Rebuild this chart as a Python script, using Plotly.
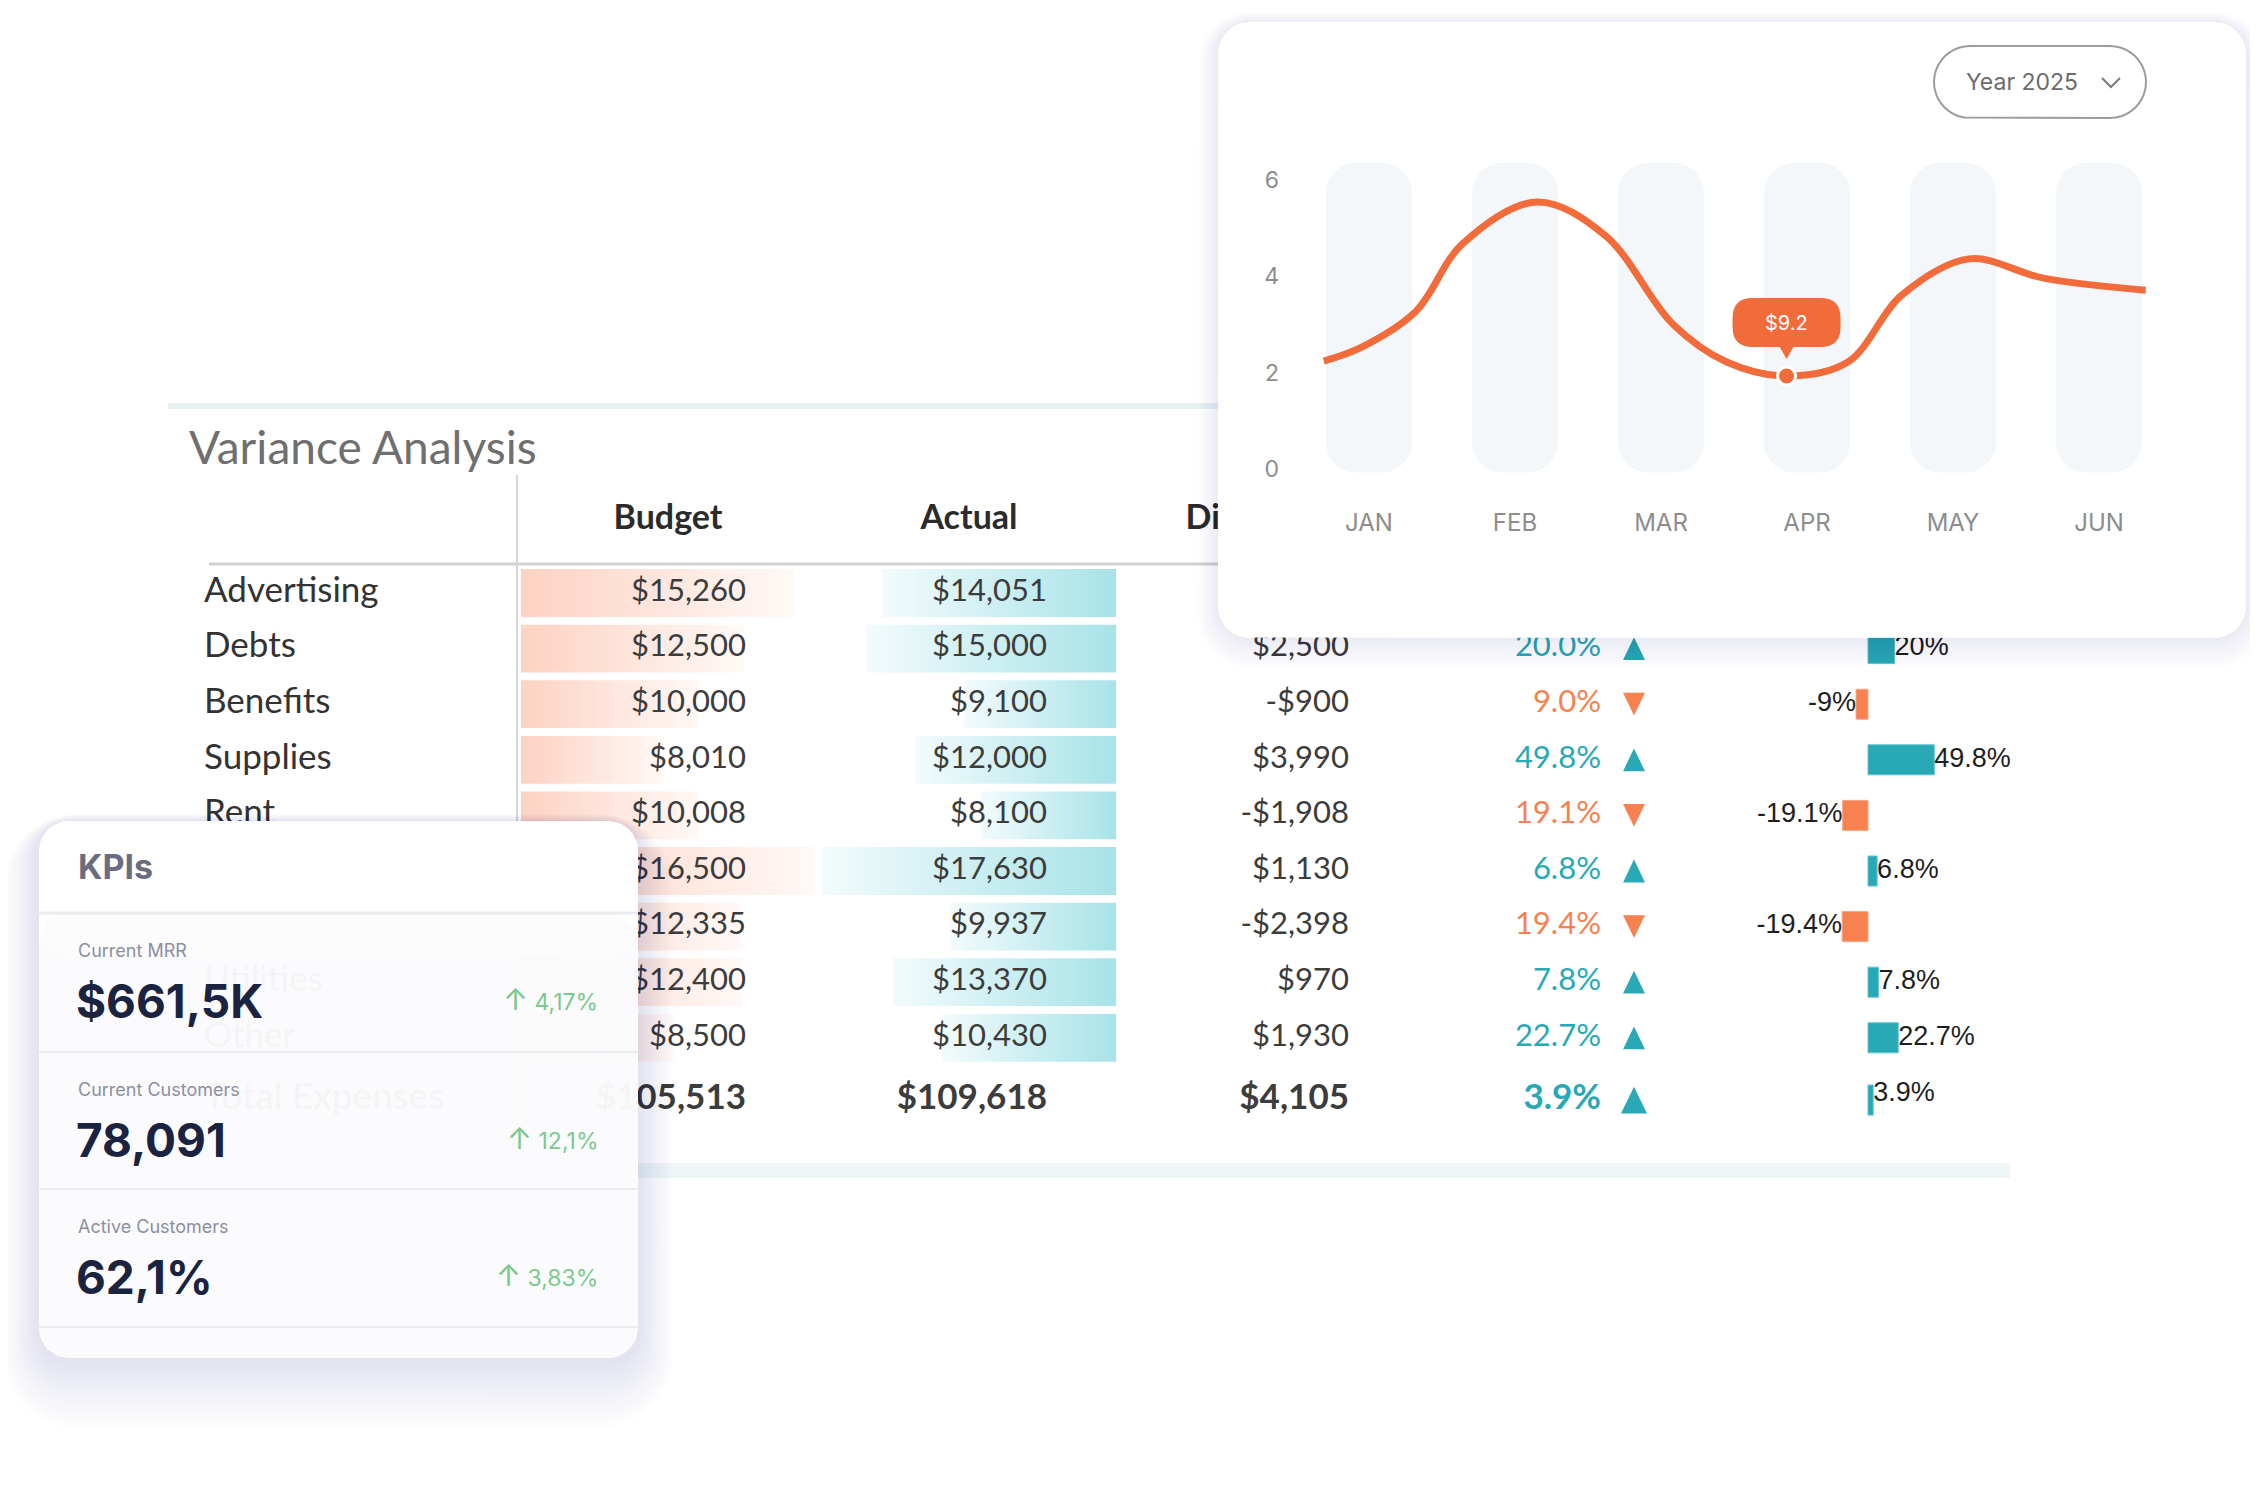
import math
import plotly.graph_objects as go

W, H = 2258, 1494
PAD = 8                      # default <body> margin around the figure div
FW, FH = W - 2 * PAD, H - 2 * PAD

# ---------------- variance table
rows = ["Advertising", "Debts", "Benefits", "Supplies", "Rent",
        "Salaries", "Travel", "Utilities", "Other"]
total_label = "Total Expenses"
budget = [15260, 12500, 10000, 8010, 10008, 16500, 12335, 12400, 8500]
actual = [14051, 15000, 9100, 12000, 8100, 17630, 9937, 13370, 10430]
headers = ["Budget", "Actual", "Difference"]

# ---------------- monthly line chart
months = ["JAN", "FEB", "MAR", "APR", "MAY", "JUN"]
line_x = [-0.31, -0.05, 0.32, 0.64, 1.15, 1.62, 2.08, 2.45, 2.86, 3.28, 3.65, 4.11, 4.62, 5.32]
line_y = [2.24, 2.53, 3.27, 4.67, 5.54, 4.84, 3.01, 2.22, 1.93, 2.22, 3.61, 4.36, 3.96, 3.71]
y_ticks = [0, 2, 4, 6]
tooltip_text = "$9.2"
year_label = "Year 2025"

# ---------------- KPI card
kpi_names = ["Current MRR", "Current Customers", "Active Customers"]
kpi_values = ["$661,5K", "78,091", "62,1%"]
kpi_deltas = ["4,17%", "12,1%", "3,83%"]

TEAL = "#29a9b5"
ORANGE = "#f7814f"
LINE_ORANGE = "#f26b3a"
TXT = "#3c3c3c"


def fx(px):
    return (px - PAD) / FW


def fy(py):
    return 1 - (py - PAD) / FH


def rounded_rect(x0, y0, x1, y1, r, n=10):
    xs, ys = [], []
    for cx, cy, a0 in [(x1 - r, y0 + r, -90), (x1 - r, y1 - r, 0),
                       (x0 + r, y1 - r, 90), (x0 + r, y0 + r, 180)]:
        for k in range(n + 1):
            a = math.radians(a0 + 90 * k / n)
            xs.append(cx + r * math.cos(a))
            ys.append(cy + r * math.sin(a))
    return xs + xs[:1], ys + ys[:1]


def rpath(x0, y0, x1, y1, r):
    return (f"M{x0 + r},{y0} L{x1 - r},{y0} Q{x1},{y0} {x1},{y0 + r} L{x1},{y1 - r} "
            f"Q{x1},{y1} {x1 - r},{y1} L{x0 + r},{y1} Q{x0},{y1} {x0},{y1 - r} "
            f"L{x0},{y0 + r} Q{x0},{y0} {x0 + r},{y0} Z")


def money(v):
    return f"-${abs(v):,}" if v < 0 else f"${v:,}"


def short_pct(p):
    s = f"{p:.1f}".rstrip("0").rstrip(".")
    return s + "%"


diff = [a - b for a, b in zip(actual, budget)]
pct = [d / b * 100 for d, b in zip(diff, budget)]
tot_b, tot_a = sum(budget), sum(actual)
tot_d = tot_a - tot_b
tot_p = tot_d / tot_b * 100

TOTAL_GAP = 0.12
row_y = list(range(len(rows)))
all_y = row_y + [len(rows) + TOTAL_GAP]
all_p = pct + [tot_p]
HEADER_Y = -1.3
ROW0_PX, ROW_PX = 593, 55.6        # pixel centre of the first row, row pitch
Y_TOP, Y_BOT = -1.75, 9.65

fig = go.Figure()

# budget bars (gradient fades to white at the end of each bar)
for i, v in enumerate(budget):
    fig.add_trace(go.Scatter(
        x=[0, v, v, 0, 0], y=[i - 0.43, i - 0.43, i + 0.43, i + 0.43, i - 0.43],
        fill="toself", mode="lines", line=dict(width=0),
        fillgradient=dict(type="horizontal", colorscale=[[0, "#fdd2c2"], [1, "#fff9f7"]]),
        hoverinfo="skip", xaxis="x", yaxis="y"))

# actual bars grow right-to-left, teal at the right end
for i, v in enumerate(actual):
    fig.add_trace(go.Scatter(
        x=[0, v, v, 0, 0], y=[i - 0.43, i - 0.43, i + 0.43, i + 0.43, i - 0.43],
        fill="toself", mode="lines", line=dict(width=0),
        fillgradient=dict(type="horizontal", colorscale=[[0, "#f3fbfc"], [1, "#a7e3e8"]]),
        hoverinfo="skip", xaxis="x2", yaxis="y"))

# variance % bars
fig.add_trace(go.Bar(
    x=all_p, y=all_y, orientation="h", width=0.54,
    marker=dict(color=[TEAL if p >= 0 else ORANGE for p in all_p],
                line=dict(color=["#5cc3cc" if p >= 0 else "#fba583" for p in all_p], width=1)),
    xaxis="x3", yaxis="y", hoverinfo="skip"))
fig.add_trace(go.Scatter(
    x=all_p, y=[y - (0.1 if i == len(rows) else 0) for i, y in enumerate(all_y)],
    mode="text", text=[short_pct(p) for p in all_p],
    textposition=["middle right" if p >= 0 else "middle left" for p in all_p],
    textfont=dict(family="Arial, Liberation Sans", size=27, color="#1e1e1e"),
    cliponaxis=False, xaxis="x3", yaxis="y", hoverinfo="skip"))

# table text (x4 is a pixel axis across the page)
LABEL_X, BUDGET_R, ACTUAL_R, DIFF_R, PCT_R, TRI_X = 204, 746, 1047, 1349, 1601, 1634
HEAD_X = [668, 969, 1265]
norm = [31] * len(rows) + [35]
fig.add_trace(go.Scatter(
    x=[LABEL_X] * len(all_y), y=all_y, mode="text",
    text=rows + [total_label], textposition="middle right",
    textfont=dict(family="Lato", size=[35] * len(rows) + [37], color="#333333"),
    cliponaxis=False, xaxis="x4", yaxis="y", hoverinfo="skip"))
for col_x, vals in [(BUDGET_R, budget + [tot_b]), (ACTUAL_R, actual + [tot_a]), (DIFF_R, diff + [tot_d])]:
    fig.add_trace(go.Scatter(
        x=[col_x] * len(all_y), y=all_y, mode="text",
        text=[money(v) for v in vals[:-1]] + [f"<b>{money(vals[-1])}</b>"],
        textposition="middle left",
        textfont=dict(family="Lato", size=norm, color=TXT),
        cliponaxis=False, xaxis="x4", yaxis="y", hoverinfo="skip"))
fig.add_trace(go.Scatter(
    x=[PCT_R] * len(all_y), y=all_y, mode="text",
    text=[f"{abs(p):.1f}%" for p in pct] + [f"<b>{abs(tot_p):.1f}%</b>"],
    textposition="middle left",
    textfont=dict(family="Lato", size=norm, color=[TEAL if p >= 0 else ORANGE for p in all_p]),
    cliponaxis=False, xaxis="x4", yaxis="y", hoverinfo="skip"))

# up / down arrows as small isosceles triangles (half width in px, half height in rows)
for color, up in [(TEAL, True), (ORANGE, False)]:
    tx, ty = [], []
    for i, (p, y) in enumerate(zip(all_p, all_y)):
        if (p >= 0) != up:
            continue
        hw = 13 if i == len(rows) else 11
        hh = 0.24 if i == len(rows) else 0.205
        tip, foot = (y - hh, y + hh) if up else (y + hh, y - hh)
        tx += [TRI_X - hw, TRI_X + hw, TRI_X, TRI_X - hw, None]
        ty += [foot, foot, tip, foot, None]
    fig.add_trace(go.Scatter(x=tx, y=ty, mode="lines", fill="toself", fillcolor=color,
                             line=dict(width=0, color=color), xaxis="x4", yaxis="y",
                             hoverinfo="skip"))

fig.add_trace(go.Scatter(
    x=HEAD_X, y=[HEADER_Y] * len(headers), mode="text",
    text=[f"<b>{h}</b>" for h in headers], textposition="middle center",
    textfont=dict(family="Lato", size=34, color="#2b2b2b"),
    cliponaxis=False, xaxis="x4", yaxis="y", hoverinfo="skip"))

# ---------------- cards on the page-pixel axis (x5/y5)
def add_poly(xs, ys, fill, line_color=None, line_width=0):
    fig.add_trace(go.Scatter(
        x=xs, y=ys, fill="toself", fillcolor=fill, mode="lines",
        line=dict(width=line_width, color=line_color or fill),
        hoverinfo="skip", xaxis="x5", yaxis="y5"))


CHART_CARD = (1218, 22, 2246, 638)
KPI_CARD = (39, 821, 638, 1358)

for k in range(1, 11):
    x0, y0, x1, y1 = CHART_CARD
    add_poly(*rounded_rect(x0 - 2 * k, y0 - k, x1 + 2 * k, y1 + 3 * k, 32 + 2 * k),
             "rgba(40,50,70,0.006)")
add_poly(*rounded_rect(*CHART_CARD, 32), "#ffffff")

# year selector
add_poly(*rounded_rect(1934, 46, 2146, 118, 36), "#ffffff", "#9c9c9c", 2)
fig.add_trace(go.Scatter(x=[2102, 2111, 2120], y=[78, 87, 78], mode="lines",
                         line=dict(color="#7a7a7a", width=2), hoverinfo="skip",
                         xaxis="x5", yaxis="y5"))

for k in range(1, 15):
    x0, y0, x1, y1 = KPI_CARD
    add_poly(*rounded_rect(x0 - 2.5 * k, y0 - 0.5 * k, x1 + 2.5 * k, y1 + 5 * k, 30 + 3 * k),
             "rgba(40,50,70,0.008)")
# frosted card: opaque header, slightly see-through body
add_poly(*rounded_rect(*KPI_CARD, 30), "rgba(255,255,255,0.93)")
add_poly(*rounded_rect(KPI_CARD[0], KPI_CARD[1], KPI_CARD[2], 955, 30), "rgba(255,255,255,0.97)")
add_poly(*rounded_rect(KPI_CARD[0], 914, KPI_CARD[2], KPI_CARD[3], 30), "rgba(250,250,252,0.5)")

KPI_SEP = [913, 1052, 1189, 1327]
for j, sy in enumerate(KPI_SEP):
    fig.add_trace(go.Scatter(x=[KPI_CARD[0], KPI_CARD[2]], y=[sy, sy], mode="lines",
                             line=dict(color="#ebebf0", width=3 if j == 0 else 2),
                             hoverinfo="skip", xaxis="x5", yaxis="y5"))

# ---------------- monthly chart (x6/y6)
TRACK_TOP, TRACK_BOTTOM = 6.35, -0.07
track_x = list(range(len(months)))
fig.add_trace(go.Bar(x=track_x, y=[TRACK_TOP - TRACK_BOTTOM] * len(months),
                     base=[TRACK_BOTTOM] * len(months), width=0.59,
                     marker=dict(color="#f3f7fa", cornerradius=30, line=dict(width=0)),
                     xaxis="x6", yaxis="y6", hoverinfo="skip"))
fig.add_trace(go.Scatter(x=line_x, y=line_y, mode="lines",
                         line=dict(color=LINE_ORANGE, width=7, shape="spline", smoothing=1.0),
                         xaxis="x6", yaxis="y6", hoverinfo="skip"))
hi = line_y.index(min(line_y))
fig.add_trace(go.Scatter(x=[line_x[hi]], y=[line_y[hi]], mode="markers",
                         marker=dict(size=18, color=LINE_ORANGE, line=dict(color="white", width=3)),
                         xaxis="x6", yaxis="y6", hoverinfo="skip"))

shapes = [
    # table rules
    dict(type="line", xref="x5", yref="y5", x0=168, x1=1218, y0=406, y1=406,
         line=dict(color="#e4f2f2", width=6), layer="below"),
    dict(type="rect", xref="x5", yref="y5", x0=168, x1=2010, y0=1163, y1=1178,
         fillcolor="#eef6f7", line=dict(width=0), layer="below"),
    dict(type="line", xref="x5", yref="y5", x0=209, x1=1218, y0=564, y1=564,
         line=dict(color="#d0d0d0", width=3), layer="below"),
    dict(type="line", xref="x5", yref="y5", x0=517, x1=517, y0=475, y1=1125,
         line=dict(color="#d6d6d6", width=2), layer="below"),
    # tooltip bubble, pixel offsets from the highlighted point
    dict(type="path", xref="x6", yref="y6", xsizemode="pixel", ysizemode="pixel",
         xanchor=line_x[hi], yanchor=line_y[hi], path=rpath(-54, 29, 54, 78, 20),
         fillcolor=LINE_ORANGE, line=dict(width=0), layer="above"),
    dict(type="path", xref="x6", yref="y6", xsizemode="pixel", ysizemode="pixel",
         xanchor=line_x[hi], yanchor=line_y[hi], path="M-8,31 L0,17 L8,31 Z",
         fillcolor=LINE_ORANGE, line=dict(width=0), layer="above"),
]

ann = [
    dict(x=187, y=446, xref="x5", yref="y5", text="Variance Analysis", showarrow=False,
         xanchor="left", yanchor="middle", font=dict(family="Lato", size=46, color="#6f6f6f")),
    dict(x=2022, y=82, xref="x5", yref="y5", text=year_label, showarrow=False,
         xanchor="center", yanchor="middle", font=dict(family="Inter", size=23, color="#6b6b6b")),
    dict(x=line_x[hi], y=line_y[hi], xref="x6", yref="y6", text=tooltip_text, showarrow=False,
         yshift=53, font=dict(family="Inter", size=20, color="white")),
    dict(x=76, y=866, xref="x5", yref="y5", text="<b>KPIs</b>", showarrow=False,
         xanchor="left", yanchor="middle", font=dict(family="Inter", size=34, color="#6a6d80")),
]
for j, (name, val, dlt) in enumerate(zip(kpi_names, kpi_values, kpi_deltas)):
    top = KPI_SEP[j]
    ann += [
        dict(x=76, y=top + 37, xref="x5", yref="y5", text=name, showarrow=False,
             xanchor="left", yanchor="middle", font=dict(family="Inter", size=18, color="#8b8fa3")),
        dict(x=74, y=top + 88, xref="x5", yref="y5", text=f"<b>{val}</b>", showarrow=False,
             xanchor="left", yanchor="middle", font=dict(family="Inter", size=46, color="#1a2340")),
        dict(x=600, y=top + 86, xref="x5", yref="y5",
             text=f"<span style='font-size:30px'>↑</span> {dlt}", showarrow=False,
             xanchor="right", yanchor="middle", font=dict(family="Inter", size=23, color="#7cc98c")),
    ]

hidden = dict(visible=False)
fig.update_layout(
    width=FW, height=FH, margin=dict(l=0, r=0, t=0, b=0),
    paper_bgcolor="white", plot_bgcolor="rgba(0,0,0,0)",
    showlegend=False, hovermode=False, barmode="overlay",
    xaxis=dict(domain=[fx(521), fx(815)], range=[0, max(budget)], anchor="y", **hidden),
    xaxis2=dict(domain=[fx(822), fx(1116)], range=[max(actual), 0], anchor="y", **hidden),
    xaxis3=dict(domain=[fx(1801.5), fx(1947.8)], range=[-50, 60], anchor="y", **hidden),
    xaxis4=dict(domain=[0, 1], range=[PAD, W - PAD], anchor="y", **hidden),
    yaxis=dict(domain=[fy(ROW0_PX + ROW_PX * Y_BOT), fy(ROW0_PX + ROW_PX * Y_TOP)],
               range=[Y_BOT, Y_TOP], anchor="x", **hidden),
    xaxis5=dict(domain=[0, 1], range=[PAD, W - PAD], anchor="y5", **hidden),
    yaxis5=dict(domain=[0, 1], range=[H - PAD, PAD], anchor="x5", **hidden),
    xaxis6=dict(domain=[fx(1296), fx(2172)], range=[-0.5, 5.5], anchor="y6",
                tickvals=track_x, ticktext=months, showgrid=False, zeroline=False,
                showline=False, ticks="", ticklabelstandoff=22,
                tickfont=dict(family="Inter", size=24, color="#8d8d8d")),
    yaxis6=dict(domain=[fy(483.5), fy(150.9)], range=[-0.3, 6.6], anchor="x6",
                tickvals=y_ticks, showgrid=False, zeroline=False, showline=False,
                ticks="", ticklabelstandoff=16,
                tickfont=dict(family="Inter", size=23, color="#8d8d8d")),
    shapes=shapes, annotations=ann,
)

fig.write_html("out.html")
